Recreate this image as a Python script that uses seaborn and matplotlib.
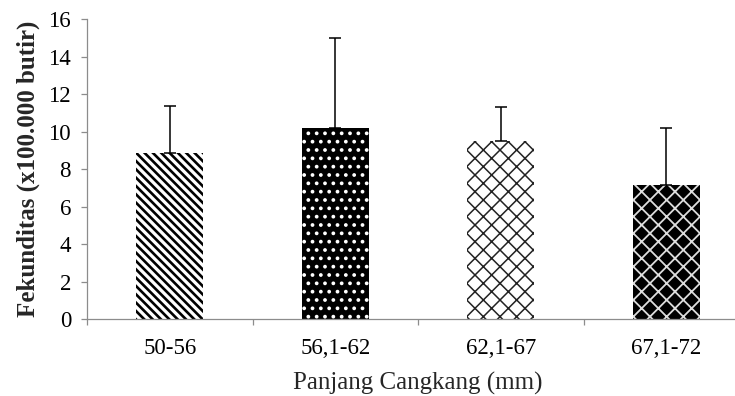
import matplotlib
matplotlib.use("Agg")
import matplotlib.pyplot as plt
import seaborn as sns
import pandas as pd
import numpy as np

# Data
categories = ["50-56", "56,1-62", "62,1-67", "67,1-72"]
means = [8.85, 10.2, 9.5, 7.15]
sd = [2.52, 4.79, 1.80, 3.03]
y_ticks = [0, 2, 4, 6, 8, 10, 12, 14, 16]

sns.set_style("white")
plt.rcParams["font.family"] = ["Liberation Serif", "DejaVu Serif"]
plt.rcParams["hatch.linewidth"] = 1.1

df = pd.DataFrame({"kelas": categories, "fek": means})

fig = plt.figure(figsize=(7.35, 3.96), dpi=100)
ax = fig.add_axes([87 / 735, 77 / 396, 662 / 735, 299.7 / 396])

sns.barplot(data=df, x="kelas", y="fek", order=categories, color="white",
            width=0.405, ax=ax, errorbar=None, linewidth=0, saturation=1)

styles = [
    dict(face="white", edge="black", hatch="\\\\\\\\", lw=1.9),
    dict(face="black", edge="white", hatch="..", lw=1.5),
    dict(face="white", edge="#222222", hatch="xx", lw=1.1),
    dict(face="black", edge="#dddddd", hatch="xx", lw=1.3),
]
for p, st in zip(ax.patches, styles):
    p.set_facecolor(st["face"])
    p.set_edgecolor(st["edge"])
    p.set_hatch(st["hatch"])
    p.set_linewidth(0)
    if hasattr(p, "set_hatch_linewidth"):
        p.set_hatch_linewidth(st["lw"])

xpos = ax.get_xticks()
ax.errorbar(xpos, means, yerr=[np.zeros(len(sd)), sd], fmt="none",
            ecolor="black", elinewidth=1.1, capsize=4.3, capthick=1.1, zorder=5)

ax.set_xlim(-0.5, 3.5)
ax.set_ylim(0, 16)
ax.set_yticks(y_ticks)
ax.set_yticklabels([str(t) for t in y_ticks])
ax.set_xticks(xpos)
ax.set_xticklabels(categories)
ax.set_xticks(np.arange(-0.5, 3.0, 1.0), minor=True)

for s in ["top", "right"]:
    ax.spines[s].set_visible(False)
for s in ["left", "bottom"]:
    ax.spines[s].set_color("#8c8c8c")
    ax.spines[s].set_linewidth(0.9)

ax.tick_params(axis="x", which="major", length=0, labelsize=16.5, pad=14, colors="black")
ax.tick_params(axis="x", which="minor", length=4.5, width=0.9, color="#8c8c8c", direction="out", bottom=True)
ax.tick_params(axis="y", which="major", length=4.5, width=0.9, color="#8c8c8c", direction="out",
               labelsize=16.5, pad=7, left=True, labelcolor="black")

ax.set_xlabel("Panjang Cangkang (mm)", fontsize=18, labelpad=9)
ax.set_ylabel("Fekunditas (x100.000 butir)", fontsize=18, fontweight="bold", labelpad=6)

fig.savefig("out.png", dpi=100)
